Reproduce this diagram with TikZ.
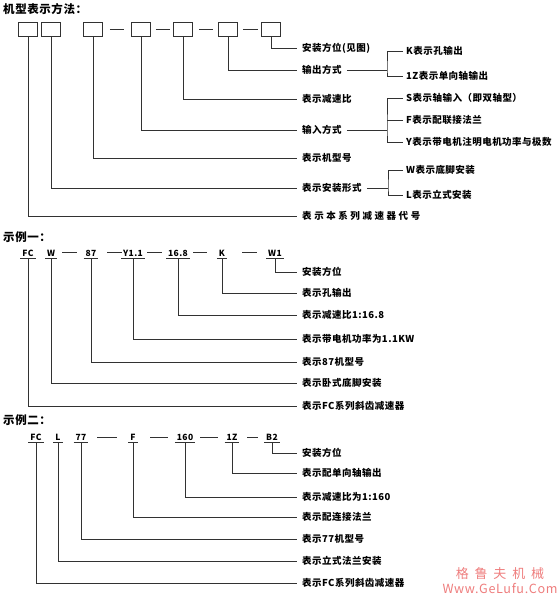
\documentclass[tikz,border=0pt]{standalone}
\usepackage{fontspec}
\setmainfont{Noto Sans CJK SC}[LetterSpace=5]
\newfontfamily\widefont{Noto Sans CJK SC}[LetterSpace=27]
\newfontfamily\wmfont{Noto Sans CJK SC}[LetterSpace=45]
\usepackage{tikz}
\usetikzlibrary{positioning,calc}
\definecolor{linegray}{RGB}{50,50,50}
\definecolor{markred}{RGB}{238,125,125}

\begin{document}
\begin{tikzpicture}[x=1pt, y=-1pt,
  box/.style={draw=linegray, line width=0.9pt, minimum width=19pt, minimum height=14pt, inner sep=0pt},
  conn/.style={draw=linegray, line width=0.8pt},
  hyph/.style={draw=linegray, line width=0.9pt},
  code/.style={anchor=south, font=\fontsize{8.5}{9}\selectfont\bfseries, inner xsep=1.8pt, inner ysep=1.5pt,
               append after command={(\tikzlastnode.south west) edge[conn] (\tikzlastnode.south east)}},
  lbl/.style={anchor=west, font=\fontsize{9.5}{10}\selectfont\bfseries, inner xsep=5pt, inner ysep=1pt},
  sub/.style={lbl, inner xsep=3pt},
  title/.style={anchor=west, font=\fontsize{11.5}{12}\selectfont\bfseries, inner sep=0pt},
  wmark/.style={text=markred, font=\fontsize{12.6}{13}\selectfont, inner sep=0pt}
]
\useasboundingbox (0,0) rectangle (560,598);

% --- model designation ---
\node[title] (t1) at (3,9) {机型表示方法：};

\node[box] (b1) at (28,29) {};
\node[box] (b2) at (51,29) {};
\node[box] (b3) at (93,29) {};
\node[box] (b4) at (141,29) {};
\node[box] (b5) at (183,29) {};
\node[box] (b6) at (228,29) {};
\node[box] (b7) at (271,29) {};
\draw[hyph] ([xshift=7pt]b3.east) -- ([xshift=-7pt]b4.west);
\draw[hyph] ([xshift=5pt]b4.east) -- ([xshift=-3pt]b5.west);
\draw[hyph] ([xshift=6pt]b5.east) -- ([xshift=-5pt]b6.west);
\draw[hyph] ([xshift=5pt]b6.east) -- ([xshift=-3pt]b7.west);

\node[lbl] (mount) at (297,48) {安装方位(见图)};
\node[lbl] (outp) at (297,70) {输出方式};
\node[lbl] (ratio) at (297,99) {表示减速比};
\node[lbl] (inp) at (297,130) {输入方式};
\node[lbl] (frame) at (297,158) {表示机型号};
\node[lbl] (inst) at (297,188) {表示安装形式};
\node[lbl, font=\fontsize{9.5}{10}\selectfont\widefont\bfseries] (series) at (297,216) {表示本系列减速器代号};

\node[sub] (outk) at (403,51) {K表示孔输出};
\node[sub] (outz) at (403,76) {1Z表示单向轴输出};
\node[sub] (ins) at (403,98) {S表示轴输入（即双轴型）};
\node[sub] (inf) at (403,120) {F表示配联接法兰};
\node[sub] (iny) at (403,142) {Y表示带电机注明电机功率与极数};
\node[sub] (instw) at (403,170) {W表示底脚安装};
\node[sub] (instl) at (403,195) {L表示立式安装};

\coordinate (jo) at (387,70);
\coordinate (ji) at (387,130);
\coordinate (jm) at (388,188);

\draw[conn] (b7.south) |- (mount.west);
\draw[conn] (b6.south) |- (outp.west);
\draw[conn] (b5.south) |- (ratio.west);
\draw[conn] (b4.south) |- (inp.west);
\draw[conn] (b3.south) |- (frame.west);
\draw[conn] (b2.south) |- (inst.west);
\draw[conn] (b1.south) |- (series.west);

\draw[conn] (outp.east) -- (jo);
\draw[conn] (outk.west) -| (jo) |- (outz.west);
\draw[conn] (inp.east) -- (ji);
\draw[conn] (ins.west) -| (ji) |- (iny.west);
\draw[conn] (inf.west) -- (inf.west -| ji);
\draw[conn] (inst.east) -- (jm);
\draw[conn] (instw.west) -| (jm) |- (instl.west);

% --- example one ---
\node[title] (t2) at (3,237) {示例一：};

\node[code] (fc1) at (28,258) {FC};
\node[code] (w1) at (51,258) {W};
\node[code] (n1) at (91,258) {87};
\node[code] (y1) at (133,258) {Y1.1};
\node[code] (r1) at (178,258) {16.8};
\node[code] (k1) at (222,258) {K};
\node[code] (p1) at (275,258) {W1};
\draw[hyph] (62,252) -- (77,252);
\draw[hyph] (107,252) -- (122,252);
\draw[hyph] (147,252) -- (162,252);
\draw[hyph] (193,252) -- (207,252);
\draw[hyph] (242,252) -- (257,252);

\node[lbl] (e1a) at (297,272) {安装方位};
\node[lbl] (e1b) at (297,293) {表示孔输出};
\node[lbl] (e1c) at (297,315) {表示减速比1:16.8};
\node[lbl] (e1d) at (297,339) {表示带电机功率为1.1KW};
\node[lbl] (e1e) at (297,362) {表示87机型号};
\node[lbl] (e1f) at (297,383) {表示卧式底脚安装};
\node[lbl] (e1g) at (297,406) {表示FC系列斜齿减速器};

\draw[conn] (p1.south) |- (e1a.west);
\draw[conn] (k1.south) |- (e1b.west);
\draw[conn] (r1.south) |- (e1c.west);
\draw[conn] (y1.south) |- (e1d.west);
\draw[conn] (n1.south) |- (e1e.west);
\draw[conn] (w1.south) |- (e1f.west);
\draw[conn] (fc1.south) |- (e1g.west);

% --- example two ---
\node[title] (t3) at (3,420) {示例二：};

\node[code] (fc2) at (36,442) {FC};
\node[code] (l2) at (58,442) {L};
\node[code] (n2) at (81,442) {77};
\node[code] (f2) at (133,442) {F};
\node[code] (r2) at (185,442) {160};
\node[code] (z2) at (232,442) {1Z};
\node[code] (p2) at (272,442) {B2};
\draw[hyph] (97,437) -- (117,437);
\draw[hyph] (150,437) -- (168,437);
\draw[hyph] (200,437) -- (218,437);
\draw[hyph] (247,437) -- (258,437);

\node[lbl] (e2a) at (297,453) {安装方位};
\node[lbl] (e2b) at (297,473) {表示配单向轴输出};
\node[lbl] (e2c) at (297,497) {表示减速比为1:160};
\node[lbl] (e2d) at (297,517) {表示配连接法兰};
\node[lbl] (e2e) at (297,539) {表示77机型号};
\node[lbl] (e2f) at (297,561) {表示立式法兰安装};
\node[lbl] (e2g) at (297,583) {表示FC系列斜齿减速器};

\draw[conn] (p2.south) |- (e2a.west);
\draw[conn] (z2.south) |- (e2b.west);
\draw[conn] (r2.south) |- (e2c.west);
\draw[conn] (f2.south) |- (e2d.west);
\draw[conn] (n2.south) |- (e2e.west);
\draw[conn] (l2.south) |- (e2f.west);
\draw[conn] (fc2.south) |- (e2g.west);

% watermark
\node[wmark, font=\fontsize{13}{14}\selectfont\wmfont] (wm1) at (500,574) {格鲁夫机械};
\node[wmark] (wm2) at (500,588) {Www.GeLufu.Com};
\end{tikzpicture}
\end{document}
